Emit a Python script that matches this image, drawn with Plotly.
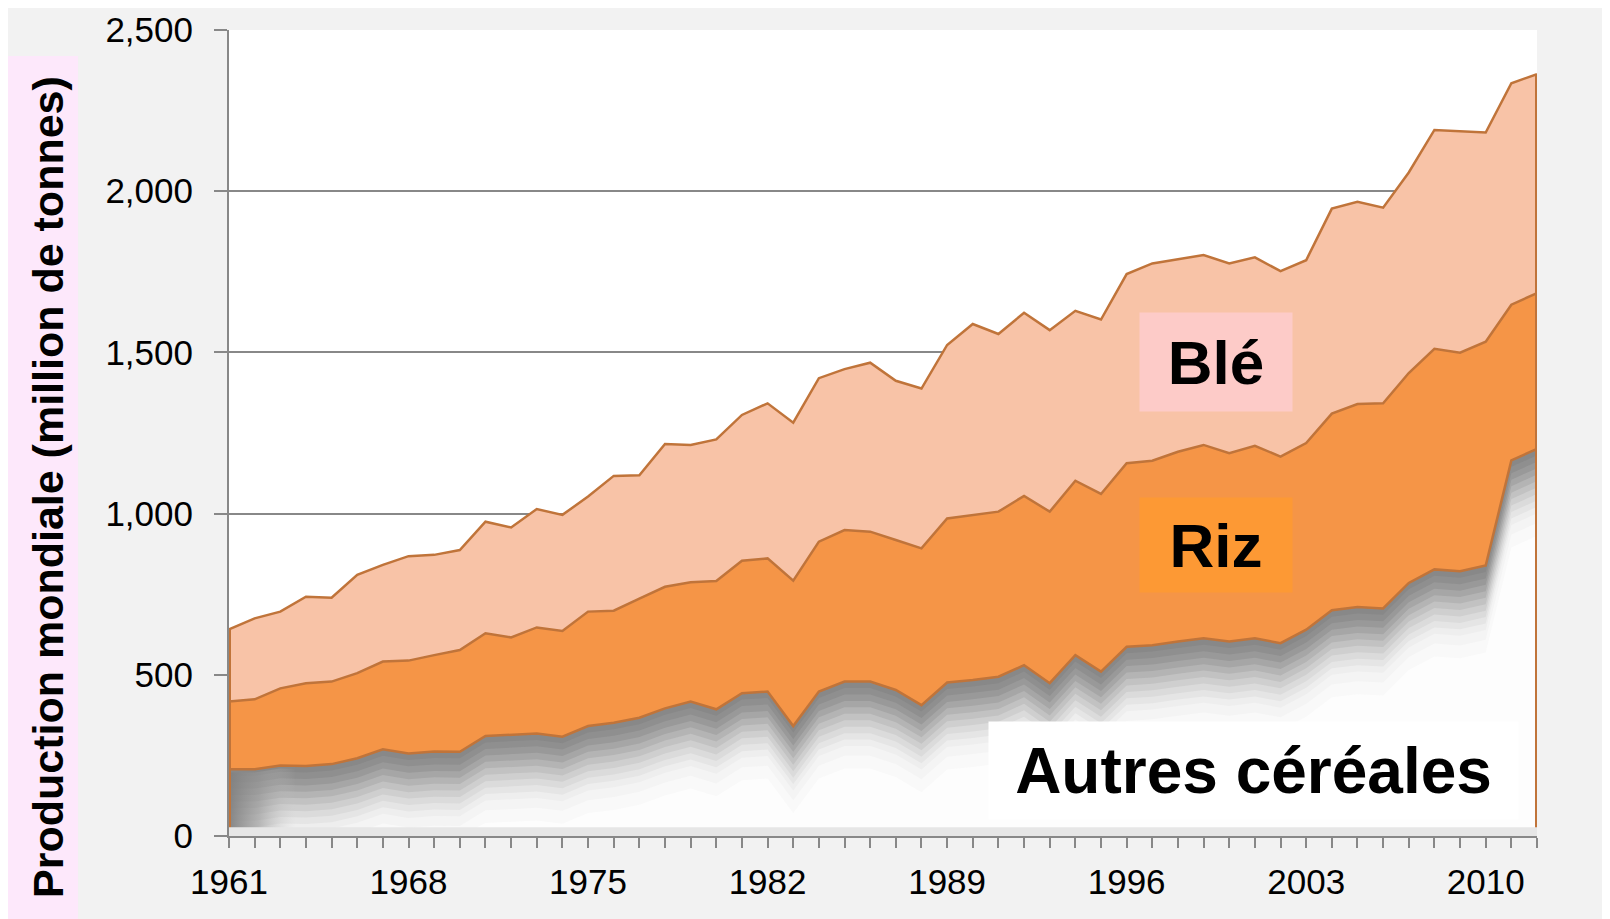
import numpy as np
import plotly.graph_objects as go

years = list(range(1961, 2013))

# million tonnes (bottom -> top of the stack)
autres = [207, 207, 219, 217, 223, 241, 269, 256, 262, 261,
          310, 313, 318, 308, 341, 351, 367, 396, 417, 393,
          443, 448, 341, 448, 479, 479, 453, 406, 476, 484,
          494, 530, 474, 561, 510, 587, 592, 603, 613, 603,
          613, 598, 640, 700, 710, 706, 785, 827, 821, 839,
          1165, 1201]
riz = [210, 217, 239, 257, 256, 264, 272, 288, 299, 316,
       319, 303, 329, 328, 355, 348, 369, 377, 370, 398,
       411, 413, 451, 465, 470, 465, 465, 486, 509, 512,
       512, 525, 532, 541, 551, 569, 572, 589, 600, 584,
       597, 579, 579, 610, 630, 636, 651, 684, 678, 694,
       483, 483]
ble = [224, 251, 238, 268, 260, 305, 300, 324, 311, 310,
       346, 341, 367, 360, 357, 418, 383, 443, 426, 439,
       452, 481, 490, 507, 499, 524, 494, 496, 538, 592,
       551, 568, 563, 527, 541, 587, 612, 597, 589, 589,
       585, 575, 567, 636, 627, 607, 622, 679, 686, 649,
       687, 679]

x_ticks = [1961, 1968, 1975, 1982, 1989, 1996, 2003, 2010]
y_ticks = [0, 500, 1000, 1500, 2000, 2500]

COLORS = {
    "ble": "#f8c3a7",
    "riz": "#f59547",
    "edge": "#c0743a",
    "axis": "#888888",
    "ble_box": "#fdcbc8",
    "riz_box": "#fd9934",
    "title_box": "#fde8fb",
    "page": "#f2f2f2",
}

# grey glow under the top edge of "Autres céréales": (offset below edge, colour)
SHADE = [(0, "#888888"), (20, "#8f8f8f"), (40, "#999999"), (60, "#a6a6a6"),
         (80, "#b4b4b4"), (100, "#c2c2c2"), (120, "#cfcfcf"), (140, "#dbdbdb"),
         (160, "#e5e5e5"), (180, "#eeeeee"), (200, "#f4f4f4"), (230, "#f9f9f9"),
         (270, "#fdfdfd")]

base = np.array(autres, dtype=float)
cum_riz = base + np.array(riz)
cum_ble = cum_riz + np.array(ble)

fig = go.Figure()

fig.add_trace(go.Scatter(x=years, y=cum_ble, mode="lines", fill="tozeroy",
                         fillcolor=COLORS["ble"], line={"width": 0}, name="Blé"))
fig.add_trace(go.Scatter(x=years, y=cum_riz, mode="lines", fill="tozeroy",
                         fillcolor=COLORS["riz"], line={"width": 0}, name="Riz"))
for offset, color in SHADE:
    fig.add_trace(go.Scatter(x=years, y=np.clip(base - offset, 0, None), mode="lines",
                             fill="tozeroy", fillcolor=color, line={"width": 0},
                             name="Autres céréales"))

# the same glow along the left edge of the area
fig.add_trace(go.Scatter(
    x=years, y=np.clip(base - 10, 0, None), mode="lines", fill="tozeroy", line={"width": 0},
    fillgradient={"type": "horizontal", "start": years[0], "stop": years[0] + 2.6,
                  "colorscale": [[0, "rgba(128,128,128,0.95)"], [0.45, "rgba(150,150,150,0.6)"],
                                 [1, "rgba(200,200,200,0)"]]},
))

for top in (cum_ble, cum_riz, base):
    fig.add_trace(go.Scatter(x=years, y=top, mode="lines",
                             line={"color": COLORS["edge"], "width": 2.5}))

# vertical outline at both ends of the stack
for i in (0, -1):
    fig.add_trace(go.Scatter(x=[years[i], years[i]], y=[0, cum_ble[i]], mode="lines",
                             line={"color": COLORS["edge"], "width": 4}))

font = "Liberation Sans, Arial, sans-serif"

# the page body adds an 8px offset, margins are set so the plot lands at 229..1537 x 30..836
fig.update_layout(
    width=1610,
    height=919,
    showlegend=False,
    paper_bgcolor=COLORS["page"],
    plot_bgcolor="#ffffff",
    margin={"l": 221, "r": 81, "t": 22, "b": 91},
    font={"family": font, "color": "#000000", "size": 35},
    xaxis={
        "range": [years[0], years[-1]],
        "tickvals": x_ticks,
        "ticks": "outside",
        "ticklen": 10,
        "tickwidth": 2,
        "tickcolor": COLORS["axis"],
        "minor": {"dtick": 1, "tick0": years[0], "ticks": "outside", "ticklen": 10,
                  "tickwidth": 2, "tickcolor": COLORS["axis"], "showgrid": False},
        "showline": True,
        "linecolor": COLORS["axis"],
        "linewidth": 2,
        "showgrid": False,
        "zeroline": False,
        "automargin": False,
        "ticklabelstandoff": 4,
    },
    yaxis={
        "range": [0, 2500],
        "tickvals": y_ticks,
        "tickformat": ",",
        "ticks": "outside",
        "ticklen": 13,
        "tickwidth": 2,
        "tickcolor": COLORS["axis"],
        "showline": True,
        "linecolor": COLORS["axis"],
        "linewidth": 2,
        "gridcolor": COLORS["axis"],
        "gridwidth": 2,
        "zeroline": False,
        "automargin": False,
        "layer": "below traces",
        "ticklabelstandoff": 14,
    },
    shapes=[
        {"type": "rect", "xref": "paper", "yref": "paper", "x0": -0.1690, "x1": -0.1154,
         "y0": -0.12, "y1": 0.9677, "fillcolor": COLORS["title_box"], "line": {"width": 0},
         "layer": "below"},
        {"type": "rect", "xref": "paper", "yref": "paper", "x0": 0, "x1": 1,
         "y0": 0, "y1": 0.011, "fillcolor": "#e6e6e6", "line": {"width": 0}},
    ],
    annotations=[
        {"text": "<b>Production mondiale (million de tonnes)</b>", "textangle": -90,
         "xref": "paper", "yref": "paper", "x": -0.1384, "y": 0.433, "showarrow": False,
         "xanchor": "center", "yanchor": "middle",
         "font": {"size": 43, "color": "#000000"}},
        {"text": "<b>Blé</b>", "xref": "paper", "yref": "paper", "x": 0.7546, "y": 0.5881,
         "xanchor": "center", "yanchor": "middle",
         "showarrow": False, "width": 152, "height": 98, "bgcolor": COLORS["ble_box"],
         "borderpad": 0, "font": {"size": 62, "color": "#000000"}},
        {"text": "<b>Riz</b>", "xref": "paper", "yref": "paper", "x": 0.7546, "y": 0.361,
         "xanchor": "center", "yanchor": "middle",
         "showarrow": False, "width": 152, "height": 94, "bgcolor": COLORS["riz_box"],
         "borderpad": 0, "font": {"size": 62, "color": "#000000"}},
        {"text": "<b>Autres céréales</b>", "xref": "paper", "yref": "paper", "x": 0.7833,
         "y": 0.0813, "xanchor": "center", "yanchor": "middle",
         "showarrow": False, "width": 529, "height": 97, "bgcolor": "#ffffff",
         "borderpad": 0, "font": {"size": 64, "color": "#000000"}},
    ],
)

fig.write_html("out.html")
